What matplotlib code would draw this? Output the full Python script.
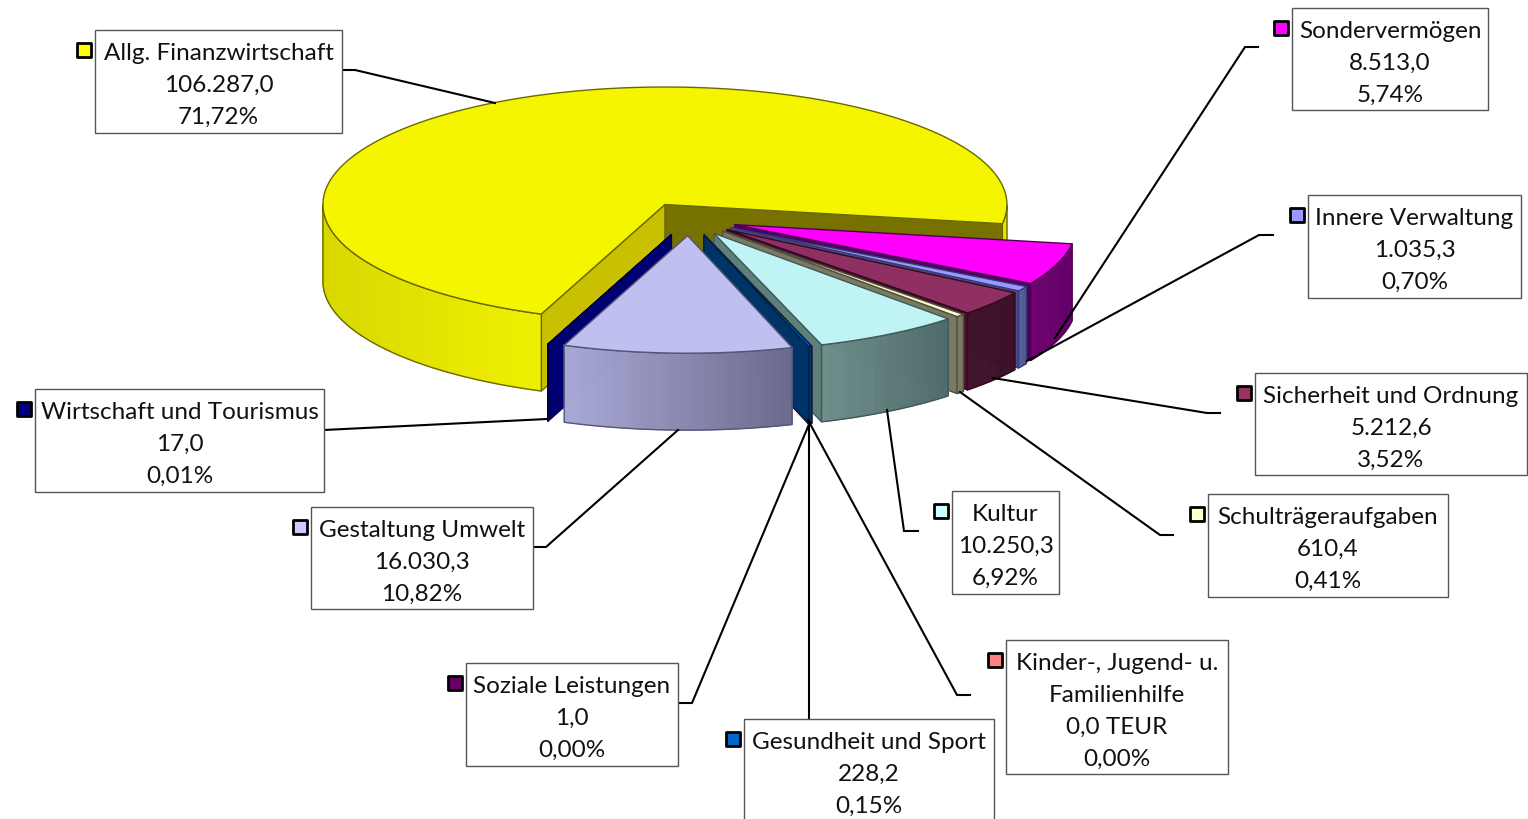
import numpy as np
import matplotlib
matplotlib.use("Agg")
import matplotlib.pyplot as plt
from matplotlib.patches import Polygon, Rectangle
from matplotlib.colors import to_rgb

# ---- data ----
categories = ["Allg. Finanzwirtschaft", "Wirtschaft und Tourismus", "Gestaltung Umwelt",
              "Soziale Leistungen", "Gesundheit und Sport", "Kinder-, Jugend- u.\nFamilienhilfe",
              "Kultur", "Schulträgeraufgaben", "Sicherheit und Ordnung",
              "Innere Verwaltung", "Sondervermögen"]
values = [106287.0, 17.0, 16030.3, 1.0, 228.2, 0.0, 10250.3, 610.4, 5212.6, 1035.3, 8513.0]
value_labels = ["106.287,0", "17,0", "16.030,3", "1,0", "228,2", "0,0 TEUR",
                "10.250,3", "610,4", "5.212,6", "1.035,3", "8.513,0"]
percent_labels = ["71,72%", "0,01%", "10,82%", "0,00%", "0,15%", "0,00%",
                  "6,92%", "0,41%", "3,52%", "0,70%", "5,74%"]

# ---- styles ----
top_colors = ["#f5f500", "#000080", "#c0c0f0", "#660066", "#0066cc", "#ff8080",
              "#c0f4f4", "#ffffcc", "#8f2f62", "#9999ff", "#ff00ff"]
swatch_colors = ["#ffff00", "#000080", "#ccccff", "#660066", "#0066cc", "#ff8080",
                 "#ccffff", "#ffffcc", "#993366", "#9999ff", "#ff00ff"]
start_face = ["#777200", "#000070", "#6a6a8c", "#3a003a", "#003366", "#804040",
              "#5f7f7a", "#7a7a62", "#4a1030", "#4a4a90", "#4c0066"]
end_face = ["#c8c000", "#000070", "#6a6a8c", "#3a003a", "#003366", "#804040",
            "#5f7f7a", "#7a7a62", "#4a1030", "#4a4a90", "#4c0066"]
side_left = ["#d8d800", "#000070", "#a9a9d8", "#3a003a", "#003366", "#804040",
             "#6f8f8b", "#7a7a62", "#42142c", "#55659c", "#6e006e"]
side_right = ["#f0f000", "#000070", "#6a6a8c", "#3a003a", "#003366", "#804040",
              "#4f6a6a", "#6a6a54", "#3c1028", "#4a5a90", "#640068"]
edge_colors = ["#6a6a00", "#000040", "#55557a", "#300030", "#002244", "#603030",
               "#3f5a58", "#505040", "#300a20", "#3a3a70", "#500050"]
draw_order = [0, 10, 9, 8, 7, 6, 5, 3, 4, 1, 2]

boxes = {0: (95, 30.5, 342, 134), 1: (35, 389.5, 324, 493), 2: (311, 507.5, 533, 610),
         3: (466, 663.5, 678, 767), 4: (744, 719.5, 994, 830), 5: (1006, 640.5, 1228, 775),
         6: (952, 491.5, 1059, 595), 7: (1208, 494.5, 1448, 598), 8: (1255, 373.5, 1527, 476),
         9: (1308, 195.5, 1521, 299), 10: (1292, 8.5, 1488, 111)}
leaders = {0: [(342, 71), (355, 71), (495, 104)], 1: [(324, 431), (547, 420)],
           2: [(533, 548), (546, 548), (678, 431)], 3: [(680, 704), (692, 704), (810, 423)],
           4: [(808.5, 720), (808.5, 423)], 5: [(970, 696), (957, 696), (808, 421)],
           6: [(918, 532), (904, 532), (887, 411)], 7: [(1173, 536), (1160, 536), (960, 393)],
           8: [(1220, 414), (1207, 414), (993, 379)], 9: [(1273, 236), (1259, 236), (1027, 362)],
           10: [(1258, 48), (1245, 48), (1055, 339)]}

CX, CY, RX, RY, DEPTH, EXPLODE, START = 689.0, 220.0, 342.0, 117.5, 77.0, 0.142, -9.4

fig = plt.figure(figsize=(15.28, 8.2), dpi=100, facecolor="white")
ax = fig.add_axes([0, 0, 1, 1])
ax.set_xlim(0, 1528)
ax.set_ylim(820, 0)
ax.axis("off")

total = sum(values)
spans = [v / total * 360.0 for v in values]
starts = START + np.concatenate(([0.0], np.cumsum(spans)[:-1]))


def rim(ox, oy, deg):
    t = np.radians(deg)
    return ox + RX * np.cos(t), oy - RY * np.sin(t)


def draw_slice(i, z):
    a, b = starts[i], starts[i] + spans[i]
    mid = np.radians((a + b) / 2)
    ox = CX + EXPLODE * RX * np.cos(mid)
    oy = CY - EXPLODE * RY * np.sin(mid)
    edge = edge_colors[i]

    def quad(deg, color):
        x, y = rim(ox, oy, deg)
        ax.add_patch(Polygon([(ox, oy), (x, y), (x, y + DEPTH), (ox, oy + DEPTH)],
                             closed=True, fc=color, ec=edge, lw=1.0, zorder=z))

    if np.cos(np.radians(a)) > 0:
        quad(a, start_face[i])
    if np.cos(np.radians(b)) < 0:
        quad(b, end_face[i])

    # outer wall: visible on the lower half of the ellipse only, in contiguous runs
    ts = np.linspace(a, b, max(int((b - a) * 2), 2))
    vis = np.sin(np.radians(ts)) < 0
    if spans[i] > 1e-6 and vis.any():
        runs = np.split(ts[vis], np.where(np.diff(np.flatnonzero(vis)) > 1)[0] + 1)
        c0, c1 = np.array(to_rgb(side_left[i])), np.array(to_rgb(side_right[i]))
        for run in runs:
            vx, yv = rim(ox, oy, run)
            for k in range(len(vx) - 1):
                f = (vx[k] - vx.min()) / max(vx.max() - vx.min(), 1e-6)
                col = c0 + (c1 - c0) * f
                ax.add_patch(Polygon([(vx[k], yv[k]), (vx[k + 1], yv[k + 1]),
                                      (vx[k + 1], yv[k + 1] + DEPTH), (vx[k], yv[k] + DEPTH)],
                                     closed=True, fc=col, ec=col, lw=0.6, zorder=z + 0.1))
            ax.plot(np.r_[vx, vx[::-1], vx[0]], np.r_[yv, yv[::-1] + DEPTH, yv[0]],
                    color=edge, lw=1.0, zorder=z + 0.2, solid_joinstyle="round")

    # top face
    tx, ty = rim(ox, oy, ts)
    ax.add_patch(Polygon(np.c_[np.r_[ox, tx], np.r_[oy, ty]], closed=True,
                         fc=top_colors[i], ec=edge, lw=1.0, zorder=z + 0.3))


for n, i in enumerate(draw_order):
    draw_slice(i, 2 + n)

FONT = ["Lato", "DejaVu Sans"]
for i, name in enumerate(categories):
    x0, y0, x1, y1 = boxes[i]
    ax.plot(*zip(*leaders[i]), color="black", lw=1.5, zorder=30, solid_joinstyle="miter")
    ax.add_patch(Rectangle((x0, y0), x1 - x0, y1 - y0, fc="white", ec="#555555", lw=1.0, zorder=31))
    lines = name.split("\n") + [value_labels[i], percent_labels[i]]
    for k, line in enumerate(lines):
        ax.text((x0 + x1) / 2, y0 + 23 + 32 * k, line, ha="center", va="center",
                fontsize=17.5, family=FONT, color="#111111", zorder=32)
    ax.add_patch(Rectangle((x0 - 18, y0 + 13.5), 13.5, 13.5, fc=swatch_colors[i], ec="black",
                           lw=2.0, zorder=32, joinstyle="round"))

fig.savefig("out.png", dpi=100, facecolor="white")
